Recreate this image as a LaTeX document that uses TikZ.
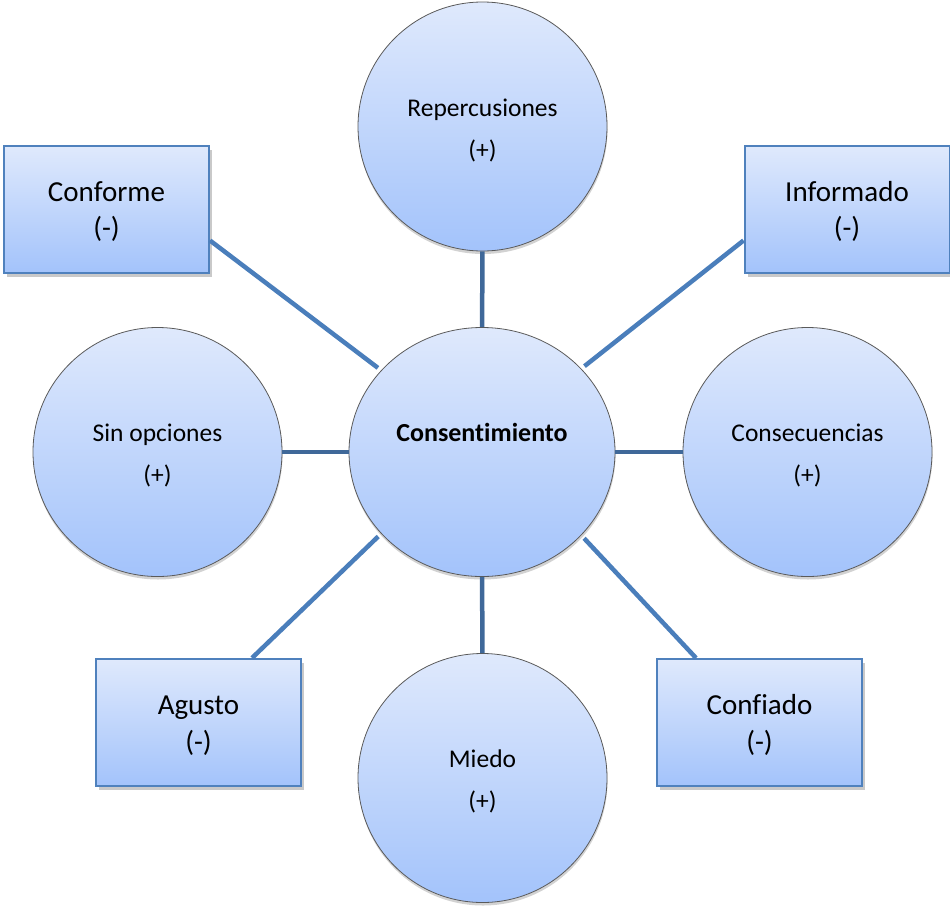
\documentclass[tikz,border=0pt]{standalone}
\usepackage{fontspec}
\setmainfont[Ligatures=NoCommon]{Carlito}
\usetikzlibrary{shapes.geometric,shadows}
\definecolor{topfill}{HTML}{DFE9FC}
\definecolor{botfill}{HTML}{A3C3FB}
\definecolor{boxline}{HTML}{4F81BD}
\definecolor{linkA}{HTML}{3F6899}
\definecolor{linkB}{HTML}{4A7EBB}
\definecolor{ringline}{HTML}{5A5A5A}
\newcommand{\bstrut}{\rule{0pt}{25pt}}
\newcommand{\tstrut}{\rule{0pt}{25pt}}
\tikzset{
  bubble/.style={circle, minimum size=249pt, inner sep=0pt, align=center,
    top color=topfill, bottom color=botfill, draw=ringline, line width=0.8pt,
    drop shadow={shadow xshift=0.5pt, shadow yshift=-3pt, opacity=0.25, fill=black!70},
    font=\fontsize{25.5}{42}\selectfont},
  hub/.style={ellipse, minimum width=266pt, minimum height=249pt, inner sep=0pt,
    top color=topfill, bottom color=botfill, draw=ringline, line width=0.8pt,
    drop shadow={shadow xshift=0.5pt, shadow yshift=-3pt, opacity=0.25, fill=black!70}},
  tag/.style={rectangle, minimum width=205pt, minimum height=127pt, inner sep=0pt, align=center,
    top color=topfill, bottom color=botfill, draw=boxline, line width=2pt,
    drop shadow={shadow xshift=3pt, shadow yshift=-4pt, opacity=0.3, fill=black!70},
    font=\fontsize{29}{36}\selectfont},
  straightlink/.style={draw=linkA, line width=4.5pt},
  diaglink/.style={draw=linkB, line width=4.5pt},
}
\begin{document}
\begin{tikzpicture}[x=1pt,y=-1pt]
\useasboundingbox (0,0) rectangle (950,905);
\node[hub, label={[yshift=20pt, font=\fontsize{26}{30}\selectfont\bfseries]center:Consentimiento}] (cons) at (482,452) {};
\node[bubble] (rep) at (482.5,126.5) {\bstrut Repercusiones\\(+)};
\node[bubble] (miedo) at (482.5,778) {\bstrut Miedo\\(+)};
\node[bubble] (sin) at (157.5,452) {\bstrut Sin opciones\\(+)};
\node[bubble] (consec) at (807.5,452) {\bstrut Consecuencias\\(+)};
\node[tag] (conf) at (106.5,209.5) {\tstrut Conforme\\(-)};
\node[tag] (inf) at (847,209.5) {\tstrut Informado\\(-)};
\node[tag] (agu) at (198.5,722.5) {\tstrut Agusto\\(-)};
\node[tag] (confi) at (759.5,722.5) {\tstrut Confiado\\(-)};
\coordinate (cA) at ([yshift=-31pt]conf.east);
\coordinate (cB) at ([yshift=-31pt]inf.west);
\coordinate (cC) at ([xshift=53.5pt]agu.north);
\coordinate (cD) at ([xshift=-63.5pt]confi.north);
\draw[straightlink] (rep) -- (cons);
\draw[straightlink] (miedo) -- (cons);
\draw[straightlink] (sin) -- (cons);
\draw[straightlink] (consec) -- (cons);
\draw[diaglink, shorten >=4pt] (cA) -- (cons.141);
\draw[diaglink, shorten >=4pt] (cB) -- (cons.40);
\draw[diaglink, shorten >=4pt] (cC) -- (cons.219);
\draw[diaglink, shorten >=4pt] (cD) -- (cons.320);
\end{tikzpicture}
\end{document}
